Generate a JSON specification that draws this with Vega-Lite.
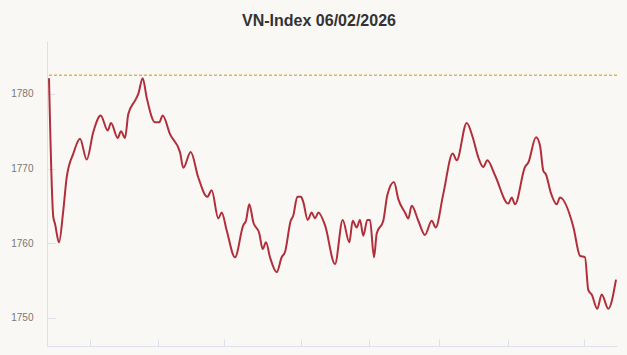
{
  "$schema": "https://vega.github.io/schema/vega-lite/v6.json",
  "width": 570,
  "height": 305,
  "autosize": {"type": "none"},
  "padding": {"left": 47, "top": 41, "right": 10, "bottom": 9},
  "background": "#faf8f5",
  "title": {
    "text": "VN-Index 06/02/2026",
    "fontSize": 16,
    "fontWeight": "bold",
    "color": "#333333",
    "font": "Liberation Sans",
    "anchor": "middle",
    "frame": "group",
    "offset": 12,
    "dx": -13
  },
  "config": {"view": {"stroke": null}, "font": "Liberation Sans"},
  "datasets": {
    "series": [
      {"t": 2, "v": 1782.1}, {"t": 6.3, "v": 1763.5}, {"t": 8, "v": 1762.6}, {"t": 12, "v": 1760.1},
      {"t": 16.3, "v": 1764.4}, {"t": 19.7, "v": 1768.8}, {"t": 26.3, "v": 1772.0}, {"t": 33, "v": 1774.0},
      {"t": 39.7, "v": 1771.2}, {"t": 46.3, "v": 1774.9}, {"t": 53.7, "v": 1777.1}, {"t": 60.7, "v": 1775.1},
      {"t": 64, "v": 1776.1}, {"t": 70.7, "v": 1774.1}, {"t": 74, "v": 1775.0}, {"t": 78, "v": 1774.1},
      {"t": 81.3, "v": 1777.3}, {"t": 88, "v": 1779.1}, {"t": 91.3, "v": 1780.0}, {"t": 95.7, "v": 1782.1},
      {"t": 99.7, "v": 1779.5}, {"t": 108, "v": 1776.2}, {"t": 112.3, "v": 1776.2}, {"t": 115.7, "v": 1777.1},
      {"t": 123, "v": 1774.6}, {"t": 133, "v": 1772.2}, {"t": 136.3, "v": 1770.1}, {"t": 143.7, "v": 1772.2},
      {"t": 151.3, "v": 1768.8}, {"t": 160.3, "v": 1766.2}, {"t": 164.7, "v": 1767.1}, {"t": 171.3, "v": 1763.3},
      {"t": 174.7, "v": 1764.1}, {"t": 179.7, "v": 1761.7}, {"t": 188, "v": 1758.1}, {"t": 196.3, "v": 1762.4},
      {"t": 199, "v": 1763.0}, {"t": 202.3, "v": 1765.2}, {"t": 206.3, "v": 1762.8}, {"t": 212.3, "v": 1761.3},
      {"t": 215.7, "v": 1759.2}, {"t": 219, "v": 1760.1}, {"t": 223, "v": 1758.1}, {"t": 229.7, "v": 1756.1},
      {"t": 234.7, "v": 1758.1}, {"t": 238, "v": 1758.8}, {"t": 243.7, "v": 1763.0}, {"t": 246.3, "v": 1763.7},
      {"t": 250.3, "v": 1766.2}, {"t": 254, "v": 1766.2}, {"t": 256.3, "v": 1765.5}, {"t": 260.7, "v": 1763.1},
      {"t": 264.7, "v": 1764.1}, {"t": 268, "v": 1763.3}, {"t": 271.3, "v": 1764.1}, {"t": 278, "v": 1762.4},
      {"t": 288, "v": 1757.2}, {"t": 295.7, "v": 1763.1}, {"t": 302.3, "v": 1760.1}, {"t": 305.7, "v": 1763.0},
      {"t": 309.7, "v": 1762.1}, {"t": 313, "v": 1763.1}, {"t": 316.3, "v": 1761.0}, {"t": 320.3, "v": 1763.1},
      {"t": 323, "v": 1763.1}, {"t": 327, "v": 1758.1}, {"t": 329.7, "v": 1761.3}, {"t": 336.3, "v": 1763.0},
      {"t": 340.3, "v": 1766.4}, {"t": 347, "v": 1768.2}, {"t": 351.3, "v": 1765.9}, {"t": 358, "v": 1764.1},
      {"t": 361.3, "v": 1763.3}, {"t": 364.7, "v": 1765.0}, {"t": 371.3, "v": 1763.0}, {"t": 378, "v": 1761.1},
      {"t": 384.7, "v": 1763.0}, {"t": 388.7, "v": 1762.1}, {"t": 396.3, "v": 1766.6}, {"t": 405.7, "v": 1772.0},
      {"t": 409.7, "v": 1771.1}, {"t": 419.7, "v": 1776.1}, {"t": 425.7, "v": 1774.2}, {"t": 431.3, "v": 1771.5},
      {"t": 436.3, "v": 1770.2}, {"t": 440.3, "v": 1771.1}, {"t": 448, "v": 1769.1}, {"t": 461.3, "v": 1765.3},
      {"t": 464.7, "v": 1766.1}, {"t": 468, "v": 1765.2}, {"t": 478, "v": 1770.2}, {"t": 481.3, "v": 1770.8},
      {"t": 489, "v": 1774.2}, {"t": 493, "v": 1773.1}, {"t": 496.3, "v": 1769.7}, {"t": 499, "v": 1769.2},
      {"t": 503.7, "v": 1766.8}, {"t": 509.7, "v": 1765.2}, {"t": 513, "v": 1766.1}, {"t": 526.3, "v": 1762.2},
      {"t": 533, "v": 1758.3}, {"t": 538, "v": 1758.1}, {"t": 541.3, "v": 1753.7}, {"t": 544.7, "v": 1753.1},
      {"t": 550.3, "v": 1751.2}, {"t": 554.7, "v": 1753.1}, {"t": 561.3, "v": 1751.2}, {"t": 569, "v": 1755.1}
    ],
    "reference": [{"v": 1782.5}]
  },
  "encoding": {
    "y": {
      "field": "v",
      "type": "quantitative",
      "scale": {"domain": [1746.2, 1787.1], "nice": false, "zero": false},
      "axis": {
        "title": null,
        "values": [1750, 1760, 1770, 1780],
        "format": "d",
        "grid": false,
        "domainColor": "#dde1ea",
        "tickColor": "#dde1ea",
        "tickSize": -8,
        "labelPadding": 22,
        "labelFontSize": 10,
        "labelColor": "#777777",
        "labelFont": "Liberation Sans"
      }
    }
  },
  "layer": [
    {
      "data": {"name": "reference"},
      "mark": {"type": "rule", "color": "#dcb35c", "strokeDash": [3, 2], "strokeWidth": 1.5}
    },
    {
      "data": {"name": "series"},
      "mark": {"type": "line", "interpolate": "monotone", "color": "#b02f3a", "strokeWidth": 2},
      "encoding": {
        "x": {
          "field": "t",
          "type": "quantitative",
          "scale": {"domain": [0, 570], "nice": false, "zero": false},
          "axis": {
            "title": null,
            "values": [43, 111.3, 177, 254, 322.3, 391.7, 460.7, 537],
            "labels": false,
            "grid": false,
            "domainColor": "#dde1ea",
            "tickColor": "#dde1ea",
            "tickSize": -7
          }
        }
      }
    }
  ]
}
